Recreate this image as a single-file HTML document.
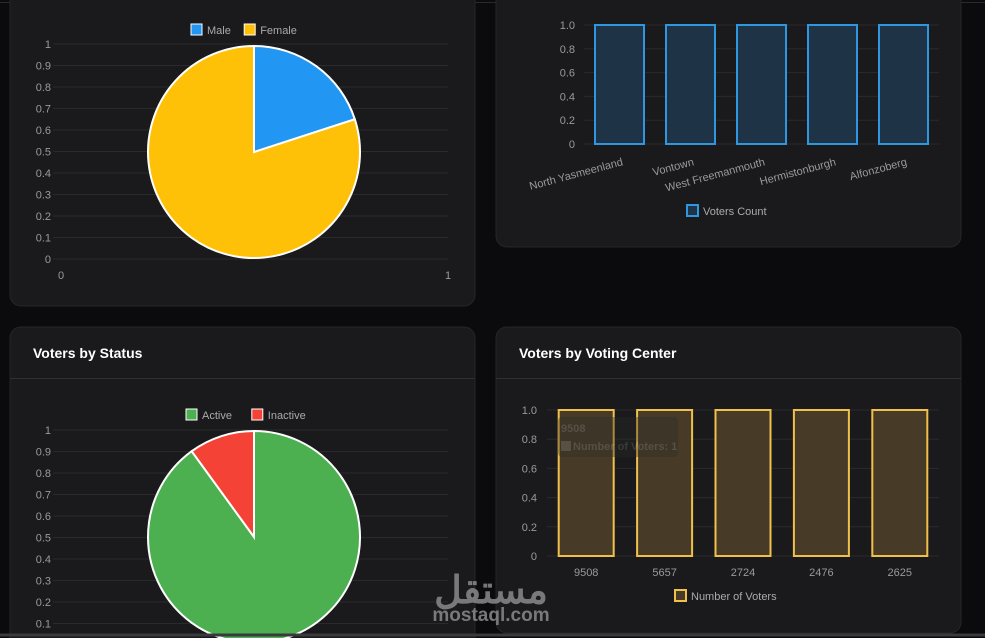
<!DOCTYPE html>
<html><head><meta charset="utf-8"><style>
html,body{margin:0;padding:0;background:#0b0b0d;width:985px;height:638px;overflow:hidden}
svg{display:block;font-family:"Liberation Sans",sans-serif}
</style></head><body>
<svg id="root" width="985" height="638" viewBox="0 0 985 638">
<line x1="0" y1="2.5" x2="985" y2="2.5" stroke="#2a2a2e"/>
<rect x="10" y="-20" width="465" height="326" rx="11" fill="#1a1a1c" stroke="#26262a"/>
<rect x="496" y="-20" width="465" height="267" rx="11" fill="#1a1a1c" stroke="#26262a"/>
<rect x="10" y="327" width="465" height="330" rx="11" fill="#1a1a1c" stroke="#26262a"/>
<rect x="496" y="327" width="465" height="306" rx="11" fill="#1a1a1c" stroke="#26262a"/>
<line x1="10" y1="378.5" x2="475" y2="378.5" stroke="#303034"/>
<line x1="496" y1="378.5" x2="961" y2="378.5" stroke="#303034"/>
<text x="33" y="358" fill="#fff" font-size="14" font-weight="bold">Voters by Status</text>
<text x="519" y="358" fill="#fff" font-size="14" font-weight="bold">Voters by Voting Center</text>
<g id="g1"></g><g id="g2"></g><g id="g3"></g><g id="g4"></g>
<g opacity="0.35">
<rect x="558" y="417" width="120" height="40" rx="4" fill="#2a2a2a"/>
<text x="561" y="432" fill="#777" font-size="11" font-weight="bold">9508</text>
<rect x="561" y="441" width="10" height="10" fill="#777"/>
<text x="573" y="450" fill="#777" font-size="11" font-weight="bold">Number of Voters: 1</text>
</g>
<line x1="0" y1="635" x2="985" y2="635" stroke="#3a3a3e" stroke-width="3"/>
<g fill="#8a8a8a" opacity="0.85">
<text x="491" y="603" font-size="38" font-weight="bold" text-anchor="middle" font-family="'Liberation Sans','Noto Sans CJK SC',sans-serif">مستقل</text>
<text x="491" y="621" font-size="19" font-weight="bold" text-anchor="middle">mostaql.com</text>
</g>
</svg>
<script>
const genderLabels=["Male","Female"];
const genderValues=[20,80];
const genderColors=["#2196f3","#ffc107"];
const statusLabels=["Active","Inactive"];
const statusValues=[90,10];
const statusColors=["#4caf50","#f44336"];
const regionCategories=["North Yasmeenland","Vontown","West Freemanmouth","Hermistonburgh","Alfonzoberg"];
const regionValues=[1,1,1,1,1];
const regionTicks=["0","0.2","0.4","0.6","0.8","1.0"];
const centerCategories=["9508","5657","2724","2476","2625"];
const centerValues=[1,1,1,1,1];
const centerTicks=["0","0.2","0.4","0.6","0.8","1.0"];
const pieTicks=["0","0.1","0.2","0.3","0.4","0.5","0.6","0.7","0.8","0.9","1"];
const NS="http://www.w3.org/2000/svg";
function mk(p,t,a,txt){const e=document.createElementNS(NS,t);for(const k in a)e.setAttribute(k,a[k]);if(txt!=null)e.textContent=txt;p.appendChild(e);return e;}
function pie(g,cfg){
 const {labels,values,colors,cx,cy,r,y1,y0,legendY,legendX,showX}=cfg;
 pieTicks.forEach((t,i)=>{const y=y0+(y1-y0)*i/(pieTicks.length-1);
  const l=mk(g,"line",{x1:53,x2:448,y1:y,y2:y,stroke:"#2a2a2e"});
  
  
  const tx=mk(g,"text",{x:51,y:y+4,fill:"#9a9a9a","font-size":11,"text-anchor":"end"},t);
  
  });
 if(showX){[["0",61],["1",448]].forEach(([t,x])=>{const tx=mk(g,"text",{x:x,y:279,fill:"#9a9a9a","font-size":11,"text-anchor":"middle"},t);
  
  });}
 const tot=values.reduce((a,b)=>a+b,0);let a0=-Math.PI/2;
 values.forEach((v,i)=>{const a1=a0+v/tot*2*Math.PI;const lg=(a1-a0)>Math.PI?1:0;
  const d=`M${cx},${cy} L${cx+r*Math.cos(a0)},${cy+r*Math.sin(a0)} A${r},${r} 0 ${lg} 1 ${cx+r*Math.cos(a1)},${cy+r*Math.sin(a1)} Z`;
  const p=mk(g,"path",{d:d,fill:colors[i],stroke:"#fff","stroke-width":2});
  
  
  a0=a1;});
 let x=legendX;labels.forEach((l,i)=>{const b=mk(g,"rect",{x:x,y:legendY-6,width:11,height:11,fill:colors[i],stroke:"#fff","stroke-width":1});
  
  
  const t=mk(g,"text",{x:x+16,y:legendY+4,fill:"#aaa","font-size":11},l);
  
  
  x+=16+l.length*6.3+12;});
}
pie(document.getElementById('g1'),{labels:genderLabels,values:genderValues,colors:genderColors,cx:254,cy:152,r:106,y1:44,y0:259,legendY:30,legendX:191,showX:true});
pie(document.getElementById('g2'),{labels:statusLabels,values:statusValues,colors:statusColors,cx:254,cy:537,r:106,y1:430,y0:645,legendY:415,legendX:186,showX:false});
function bars(g,cfg){
 const {cats,vals,ticks,x0,x1,y0,y1,bw,fill,stroke,rot,labY,legendX,legendY,legend,lblX}=cfg;
 const max=1;const ys=v=>y0-(y0-y1)*v/max;const cw=(x1-x0)/cats.length;
 ticks.forEach((t,i)=>{const y=ys(i/(ticks.length-1)*max);
  const l=mk(g,"line",{x1:x0,x2:x1,y1:y,y2:y,stroke:"#2a2a2e"});
  
  
  const tx=mk(g,"text",{x:lblX,y:y+4,fill:"#9a9a9a","font-size":11,"text-anchor":"end"},t);
  
  });
 cats.forEach((c,i)=>{const cx=x0+cw*(i+0.5);const y=ys(vals[i]);
  const r=mk(g,"rect",{x:cx-bw/2,y:y,width:bw,height:y0-y,fill:fill,stroke:stroke,"stroke-width":2});
  
  
  let t;
  if(rot){t=mk(g,"text",{x:cx+4,y:labY,fill:"#9a9a9a","font-size":11,"text-anchor":"end",transform:`rotate(-15 ${cx+4} ${labY})`},c);}
  else{t=mk(g,"text",{x:cx,y:labY,fill:"#9a9a9a","font-size":11,"text-anchor":"middle"},c);}
  
  });
 const b=mk(g,"rect",{x:legendX,y:legendY-6,width:11,height:11,fill:fill,stroke:stroke,"stroke-width":2});
 
 
 const t=mk(g,"text",{x:legendX+16,y:legendY+4,fill:"#aaa","font-size":11},legend);
 
 
}
bars(document.getElementById('g3'),{cats:regionCategories,vals:regionValues,ticks:regionTicks,x0:584,x1:939,y0:144,y1:25,bw:49,fill:"#1f3347",stroke:"#2f96e0",rot:true,labY:165,legendX:687,legendY:211,legend:"Voters Count",lblX:575});
bars(document.getElementById('g4'),{cats:centerCategories,vals:centerValues,ticks:centerTicks,x0:547,x1:939,y0:556,y1:410,bw:55,fill:"#473b28",stroke:"#f0c04a",rot:false,labY:576,legendX:675,legendY:596,legend:"Number of Voters",lblX:537});
</script>
</body></html>
